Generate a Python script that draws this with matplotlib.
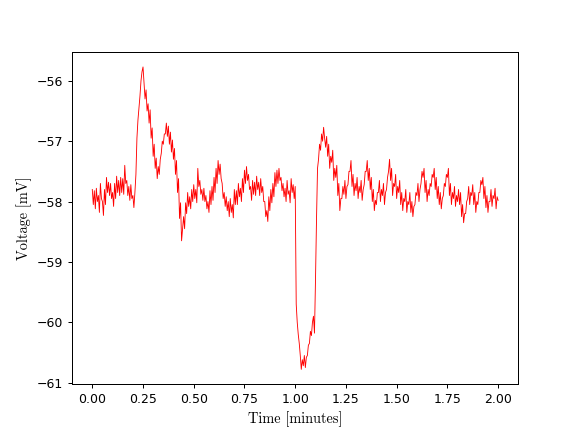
import numpy as np
import matplotlib
matplotlib.use('Agg')
import matplotlib.pyplot as plt

# Membrane voltage trace, every 0.005 min (mV)
voltage = [
    -57.80, -58.05, -57.82, -58.12, -57.78, -58.00, -57.90, -58.18, -57.70, -57.95,
    -58.00, -58.23, -57.80, -58.05, -57.60, -57.85, -57.68, -57.90, -57.70, -57.95,
    -57.85, -58.08, -57.70, -57.95, -57.58, -57.85, -57.65, -57.90, -57.60, -57.85,
    -57.62, -57.88, -57.40, -57.70, -57.65, -57.90, -57.75, -57.98, -57.72, -57.95,
    -57.90, -58.10, -57.85, -57.55, -56.95, -56.65, -56.45, -56.25, -56.00, -55.85,
    -55.77, -56.05, -56.30, -56.15, -56.50, -56.38, -56.70, -56.48, -56.95, -56.78,
    -57.25, -57.05, -57.45, -57.28, -57.62, -57.42, -57.55, -57.30, -57.20, -57.00,
    -57.05, -56.88, -56.88, -56.70, -56.92, -56.75, -57.05, -56.85, -57.18, -56.98,
    -57.30, -57.12, -57.55, -57.32, -57.85, -57.62, -58.28, -58.02, -58.65, -58.45,
    -58.25, -58.45, -58.02, -58.20, -57.85, -58.08, -57.92, -58.12, -57.80, -58.00,
    -57.72, -57.95, -57.80, -58.02, -57.45, -57.75, -57.65, -57.88, -57.80, -57.98,
    -57.78, -58.00, -57.90, -58.12, -58.00, -58.18, -57.82, -58.05, -57.75, -57.98,
    -57.60, -57.85, -57.45, -57.70, -57.32, -57.55, -57.38, -57.62, -57.70, -57.95,
    -57.85, -58.08, -57.92, -58.15, -58.00, -58.25, -57.95, -58.18, -58.05, -58.27,
    -57.80, -58.05, -57.82, -58.05, -57.70, -57.92, -57.78, -58.00, -57.62, -57.85,
    -57.48, -57.70, -57.42, -57.65, -57.55, -57.80, -57.75, -57.98, -57.65, -57.88,
    -57.68, -57.90, -57.58, -57.80, -57.68, -57.90, -57.62, -57.85, -57.75, -58.00,
    -58.00, -58.25, -58.15, -58.33, -57.92, -58.15, -57.80, -58.02, -57.70, -57.92,
    -57.52, -57.75, -57.48, -57.70, -57.45, -57.65, -57.60, -57.82, -57.70, -57.92,
    -57.78, -58.00, -57.65, -57.88, -57.82, -58.02, -57.62, -57.85, -57.72, -57.95,
    -57.75, -59.70, -60.00, -60.20, -60.35, -60.55, -60.78, -60.62, -60.72, -60.55,
    -60.75, -60.58, -60.55, -60.38, -60.35, -60.15, -60.22, -60.00, -59.90, -60.18,
    -59.30, -58.30, -57.45, -57.30, -57.05, -57.15, -56.88, -57.00, -56.77, -56.95,
    -57.10, -56.92, -57.25, -57.05, -57.45, -57.25, -57.35, -57.15, -57.65, -57.45,
    -57.60, -57.40, -57.90, -57.70, -58.15, -57.95, -57.95, -57.75, -57.88, -57.65,
    -57.95, -57.75, -57.72, -57.50, -57.50, -57.32, -57.75, -57.55, -57.90, -57.70,
    -57.82, -57.60, -57.95, -57.75, -57.85, -57.65, -57.98, -57.80, -57.72, -57.50,
    -57.50, -57.32, -57.65, -57.45, -57.80, -57.60, -58.00, -57.80, -58.15, -57.98,
    -58.05, -57.85, -57.85, -57.65, -58.00, -57.80, -57.90, -57.70, -58.05, -57.85,
    -57.80, -57.60, -57.50, -57.30, -57.65, -57.45, -57.90, -57.70, -57.75, -57.55,
    -57.95, -57.75, -57.85, -57.65, -58.05, -57.85, -58.15, -57.95, -58.00, -57.80,
    -58.18, -58.00, -58.05, -57.85, -58.18, -58.00, -58.25, -58.08, -58.05, -57.85,
    -57.90, -57.70, -58.00, -57.80, -57.70, -57.50, -57.60, -57.45, -57.85, -57.65,
    -58.00, -57.80, -57.90, -57.70, -57.75, -57.55, -57.60, -57.45, -57.80, -57.60,
    -57.95, -57.75, -58.05, -57.85, -58.12, -57.95, -57.90, -57.70, -57.75, -57.55,
    -57.60, -57.45, -57.90, -57.70, -58.05, -57.85, -57.95, -57.75, -58.08, -57.90,
    -58.00, -57.80, -58.05, -57.85, -58.25, -58.05, -58.35, -58.20, -58.20, -58.00,
    -57.95, -57.75, -58.05, -57.85, -57.90, -57.72, -58.05, -57.85, -58.18, -58.00,
    -58.05, -57.85, -57.85, -57.65, -57.72, -57.60, -57.95, -57.75, -58.10, -57.90,
    -58.18, -58.00, -58.00, -57.80, -58.08, -57.90, -57.95, -57.78, -58.12, -57.92,
    -57.98,
]
t_start, t_end = 0.0, 2.0  # minutes

time = np.linspace(t_start, t_end, len(voltage))

fig, ax = plt.subplots(figsize=(6.4, 4.8), dpi=90)
ax.plot(time, voltage, color='red', linewidth=0.7)

ax.set_xlabel('Time [minutes]', family='cmr10', fontsize=11.5)
ax.set_ylabel('Voltage [mV]', family='cmr10', fontsize=11.5)

fig.savefig('out.png', dpi=90)
